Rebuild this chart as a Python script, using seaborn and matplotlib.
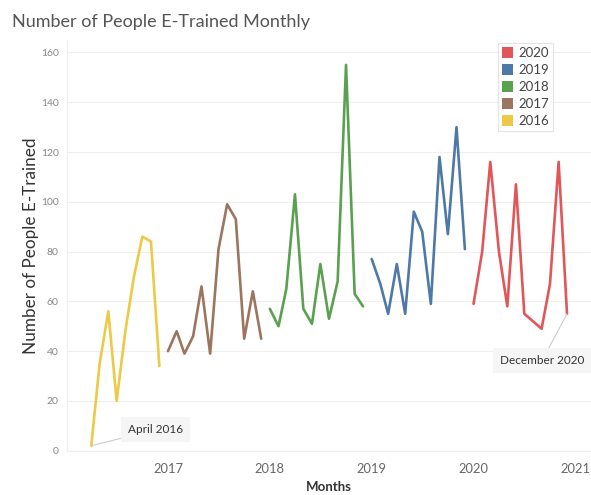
import pandas as pd
import seaborn as sns
import matplotlib.pyplot as plt
import matplotlib.dates as mdates
from matplotlib.patches import Patch

# monthly counts (2016 starts in April)
year_names = ['2016', '2017', '2018', '2019', '2020']
first_month = [4, 1, 1, 1, 1]
people_2016 = [2, 35, 56, 20, 48, 70, 86, 84, 34]
people_2017 = [40, 48, 39, 46, 66, 39, 81, 99, 93, 45, 64, 45]
people_2018 = [57, 50, 65, 103, 57, 51, 75, 53, 68, 155, 63, 58]
people_2019 = [77, 67, 55, 75, 55, 96, 88, 59, 118, 87, 130, 81]
people_2020 = [59, 80, 116, 80, 58, 107, 55, 52, 49, 67, 116, 55]
colors = ['#edc948', '#9c755f', '#59a14f', '#4e79a7', '#e15759']
legend_order = ['2020', '2019', '2018', '2017', '2016']

all_counts = [people_2016, people_2017, people_2018, people_2019, people_2020]
rows = []
for yr, m0, vals in zip(year_names, first_month, all_counts):
    for i, v in enumerate(vals):
        rows.append({'month': pd.Timestamp(int(yr), m0 + i, 1), 'year': yr, 'people': v})
df = pd.DataFrame(rows)
pal = dict(zip(year_names, colors))

sns.set_style('white')
plt.rcParams['font.family'] = ['Lato', 'DejaVu Sans']

fig = plt.figure(figsize=(5.91, 4.95), dpi=100)
ax = fig.add_axes([67 / 591, 1 - 450.7 / 495, 1 - 67 / 591, (450.7 - 40) / 495])

sns.lineplot(data=df, x='month', y='people', hue='year', palette=pal,
             linewidth=1.9, ax=ax, legend=False)

ax.set_xlim(pd.Timestamp(2016, 1, 5), pd.Timestamp(2021, 2, 25))
ax.set_ylim(0, 165)
ax.set_yticks(range(0, 161, 20))
ax.yaxis.grid(True, color='#efefef', lw=0.8)
ax.xaxis.set_major_locator(mdates.YearLocator())
ax.xaxis.set_major_formatter(mdates.DateFormatter('%Y'))
ax.xaxis.set_minor_locator(mdates.MonthLocator())
ax.tick_params(axis='x', which='major', length=3, color='#e6e6e6', labelsize=9.3,
               labelcolor='#666666', pad=6)
ax.tick_params(axis='x', which='minor', length=2, color='#f2f2f2')
ax.tick_params(axis='y', length=0, labelsize=7.5, labelcolor='#888888', pad=6)
for s in ['top', 'right']:
    ax.spines[s].set_visible(False)
for s in ['left', 'bottom']:
    ax.spines[s].set_color('#eeeeee')
    ax.spines[s].set_linewidth(0.8)

ax.set_xlabel('Months', fontsize=9.5, color='#333333', fontweight='bold', labelpad=4)
ax.set_ylabel('Number of People E-Trained', fontsize=12.3, color='#333333', labelpad=1)
fig.text(12 / 591, 1 - 22 / 495, 'Number of People E-Trained Monthly', fontsize=13,
         color='#555555', va='center', ha='left')

handles = [Patch(facecolor=pal[y], edgecolor='none', label=y) for y in legend_order]
leg = ax.legend(handles=handles, loc='upper left', bbox_to_anchor=(428 / 524, 1.0),
                frameon=True, fontsize=9.5, handlelength=0.9, handleheight=0.9,
                handletextpad=0.35, labelspacing=0.38, borderpad=0.3,
                borderaxespad=0.2, fancybox=False, labelcolor='#444444')
leg.get_frame().set_edgecolor('#dddddd')
leg.get_frame().set_linewidth(0.8)

box = dict(boxstyle='square,pad=0.6', facecolor='#f5f5f5', edgecolor='none')
line = dict(arrowstyle='-', color='#cccccc', lw=0.8, shrinkA=0, shrinkB=0)
first = df.iloc[0]
last = df.iloc[-1]
ax.annotate('April 2016', xy=(first['month'], first['people']), xytext=(64, 16),
            textcoords='offset pixels', fontsize=8.5, color='#333333',
            ha='center', va='center', bbox=box, arrowprops=line)
ax.annotate('December 2020', xy=(last['month'], last['people']), xytext=(-25, -47),
            textcoords='offset pixels', fontsize=8.5, color='#333333',
            ha='center', va='center', bbox=box, arrowprops=line)

fig.savefig('out.png', dpi=100)
